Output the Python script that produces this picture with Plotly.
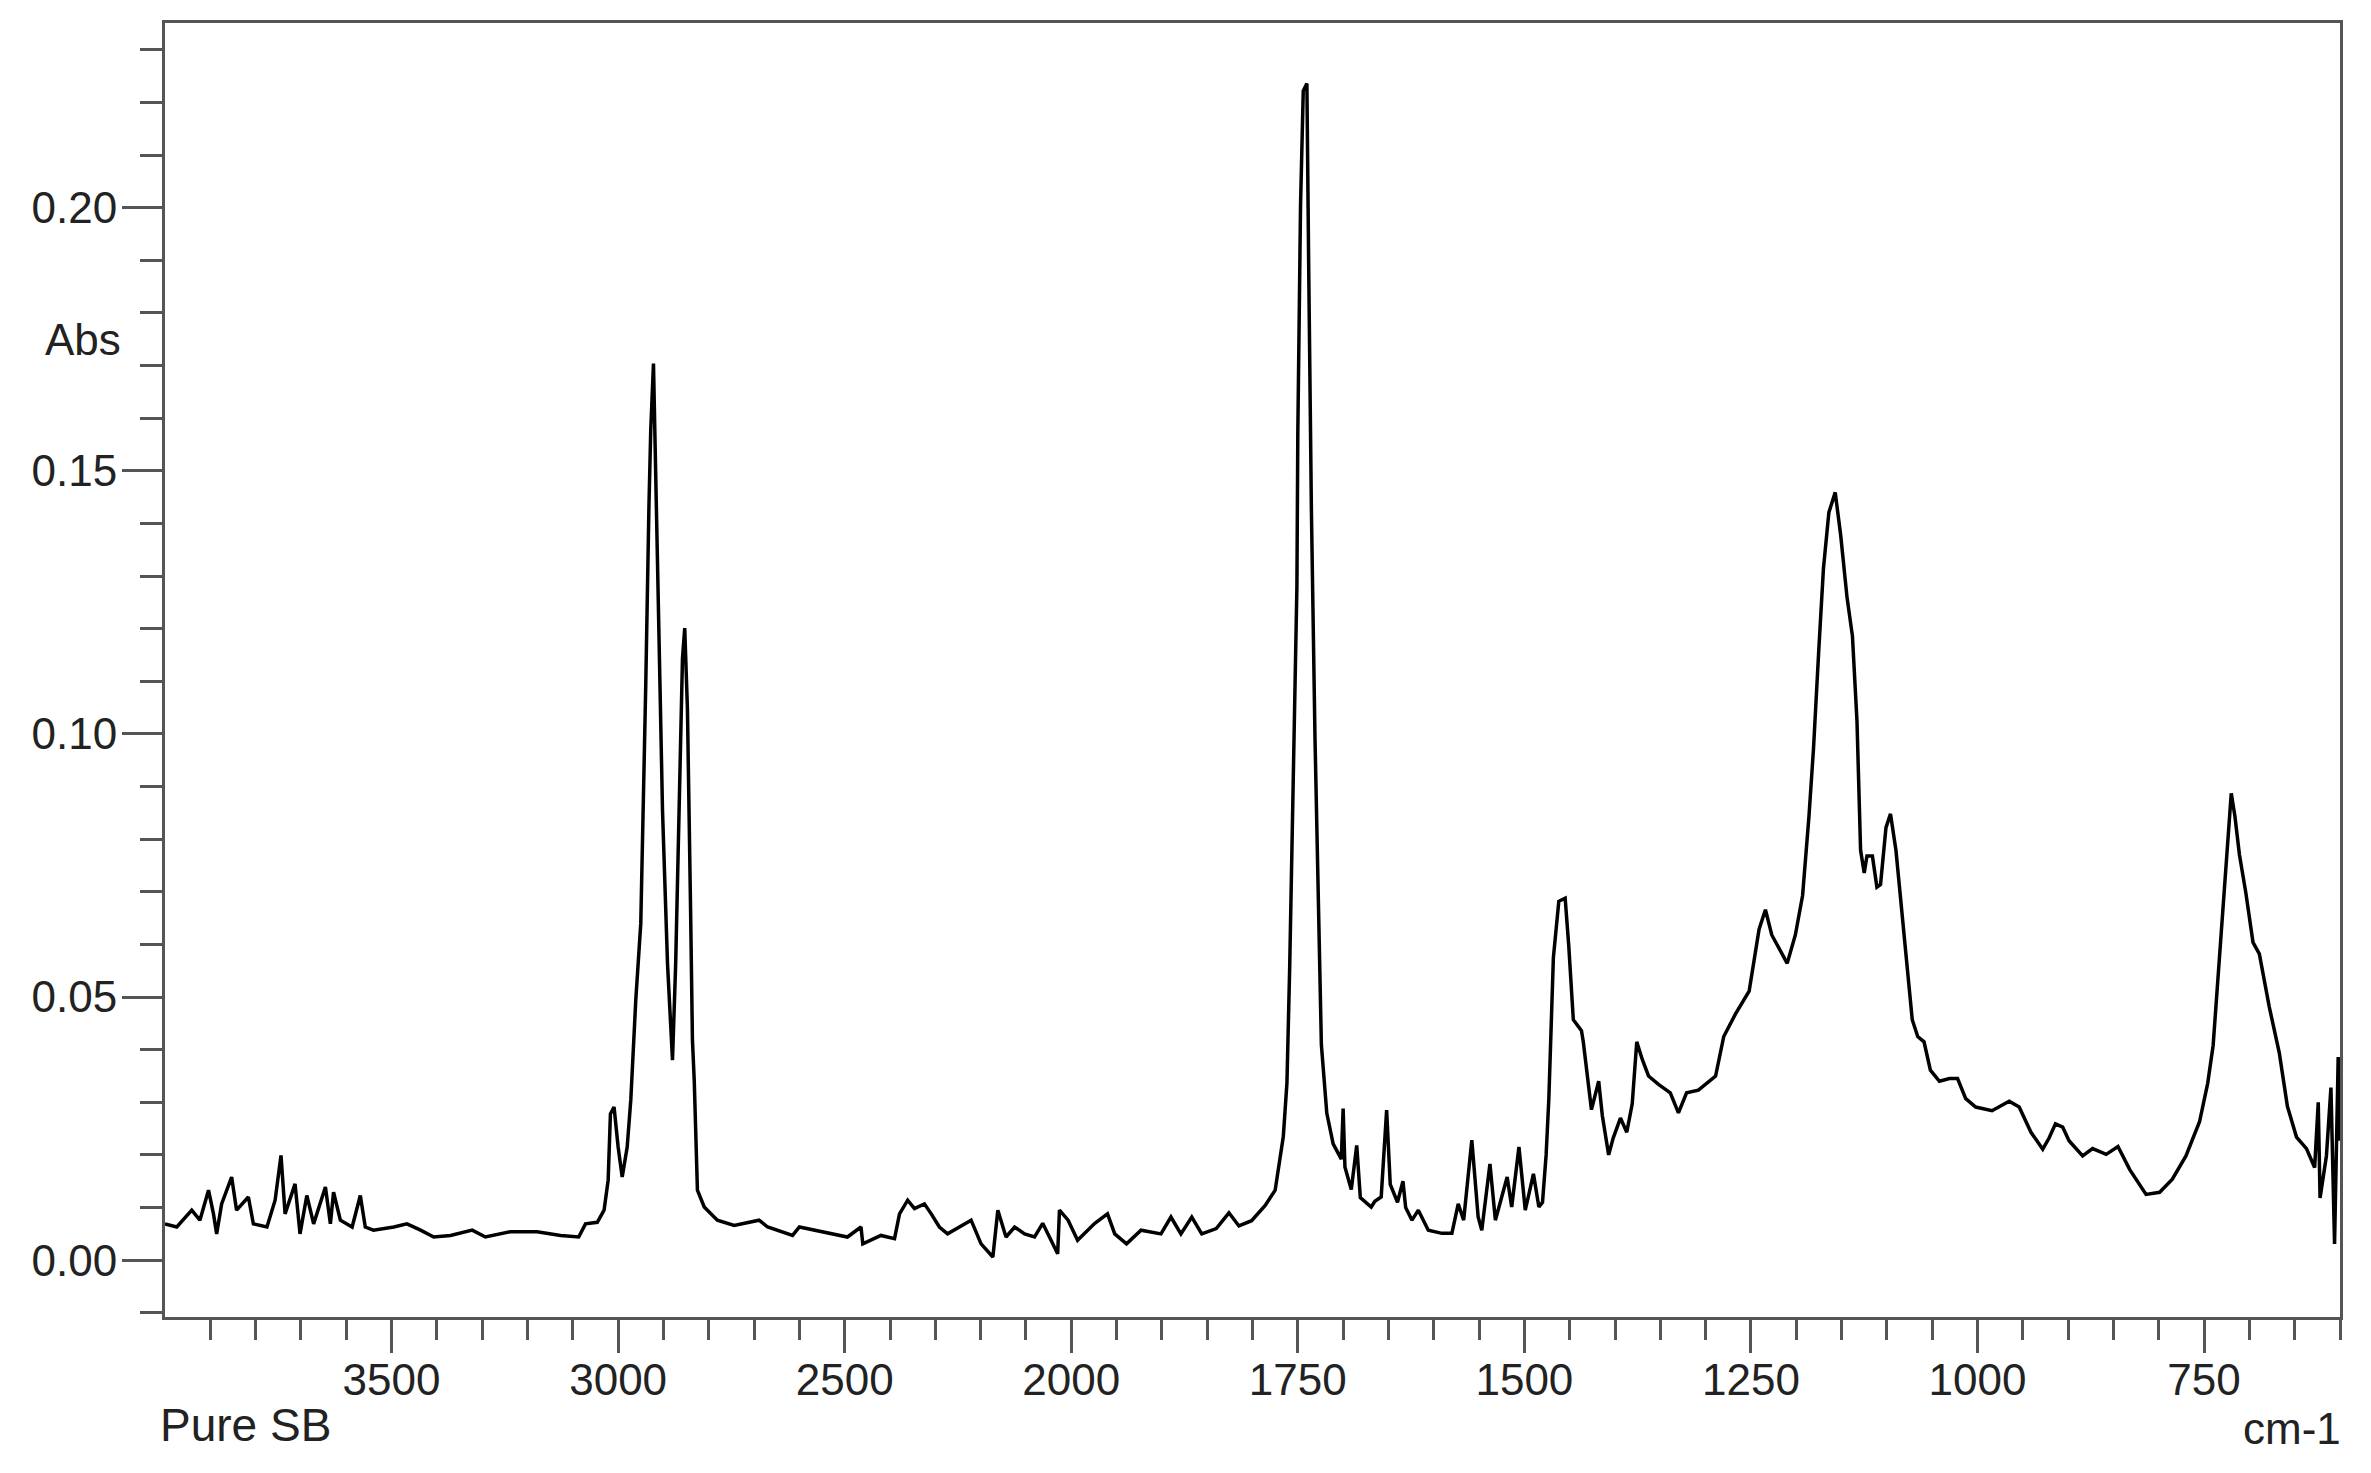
import plotly.graph_objects as go

# ---- data ----
wavenumber = [
    4000, 3974, 3941, 3923, 3904, 3893, 3886, 3875, 3853, 3842, 3816, 3805, 3775, 3757, 3744, 3735,
    3713, 3702, 3687, 3672, 3646, 3635, 3628, 3613, 3587, 3569, 3558, 3540, 3495, 3466, 3436, 3407,
    3370, 3322, 3293, 3238, 3179, 3127, 3087, 3072, 3046, 3031, 3022, 3017, 3009, 3000, 2991, 2980,
    2972, 2961, 2950, 2943, 2939, 2932, 2928, 2922, 2915, 2910, 2902, 2891, 2880, 2873, 2866, 2858,
    2853, 2847, 2840, 2836, 2832, 2829, 2825, 2810, 2781, 2744, 2689, 2670, 2615, 2600, 2552, 2494,
    2464, 2460, 2420, 2390, 2379, 2361, 2346, 2324, 2309, 2291, 2273, 2221, 2199, 2173, 2162, 2144,
    2125, 2103, 2081, 2063, 2030, 2026, 2007, 1993, 1974, 1960, 1952, 1939, 1923, 1901, 1890, 1879,
    1867, 1856, 1840, 1826, 1815, 1801, 1786, 1775, 1766, 1762, 1759, 1755, 1751, 1750, 1747, 1744,
    1740, 1738, 1735, 1731, 1727, 1724, 1718, 1711, 1702, 1700, 1698, 1691, 1685, 1681, 1669, 1665,
    1658, 1652, 1648, 1640, 1634, 1631, 1624, 1617, 1606, 1591, 1580, 1573, 1567, 1558, 1551, 1547,
    1538, 1532, 1519, 1514, 1506, 1499, 1490, 1484, 1480, 1476, 1473, 1468, 1462, 1455, 1451, 1446,
    1437, 1435, 1426, 1418, 1414, 1407, 1402, 1394, 1387, 1381, 1376, 1370, 1363, 1352, 1339, 1330,
    1321, 1308, 1289, 1280, 1267, 1252, 1241, 1234, 1227, 1217, 1210, 1201, 1193, 1186, 1181, 1175,
    1170, 1164, 1157, 1151, 1144, 1138, 1133, 1129, 1125, 1122, 1116, 1111, 1107, 1101, 1096, 1090,
    1083, 1076, 1072, 1066, 1059, 1052, 1042, 1031, 1022, 1013, 1002, 984, 965, 954, 941, 928,
    921, 914, 906, 899, 884, 873, 858, 845, 832, 814, 799, 785, 770, 755, 746, 740,
    737, 733, 728, 723, 720, 716, 711, 704, 696, 689, 678, 667, 658, 648, 637, 628,
    624, 622, 615, 610, 606, 602, 600,
]
absorbance = [
    0.0069, 0.0063, 0.0095, 0.0076, 0.0133, 0.0088, 0.0050, 0.0107, 0.0158, 0.0095, 0.0120, 0.0069, 0.0063, 0.0114, 0.0199, 0.0088,
    0.0145, 0.0050, 0.0123, 0.0069, 0.0139, 0.0069, 0.0129, 0.0076, 0.0063, 0.0123, 0.0063, 0.0057, 0.0063, 0.0069, 0.0057, 0.0044,
    0.0047, 0.0057, 0.0044, 0.0054, 0.0054, 0.0047, 0.0044, 0.0069, 0.0072, 0.0095, 0.0152, 0.0278, 0.0291, 0.0215, 0.0158, 0.0215,
    0.0305, 0.0495, 0.0640, 0.0901, 0.1095, 0.1433, 0.1578, 0.1704, 0.1385, 0.1143, 0.0853, 0.0563, 0.0380, 0.0563, 0.0853, 0.1143,
    0.1201, 0.1046, 0.0660, 0.0418, 0.0341, 0.0246, 0.0133, 0.0101, 0.0076, 0.0066, 0.0076, 0.0063, 0.0047, 0.0063, 0.0054, 0.0044,
    0.0063, 0.0031, 0.0047, 0.0041, 0.0088, 0.0114, 0.0098, 0.0107, 0.0088, 0.0063, 0.0050, 0.0076, 0.0031, 0.0006, 0.0095, 0.0044,
    0.0063, 0.0050, 0.0044, 0.0070, 0.0012, 0.0095, 0.0076, 0.0038, 0.0070, 0.0088, 0.0050, 0.0031, 0.0057, 0.0050, 0.0082, 0.0050,
    0.0082, 0.0050, 0.0060, 0.0090, 0.0065, 0.0075, 0.0104, 0.0133, 0.0235, 0.0337, 0.0554, 0.0917, 0.1280, 0.1570, 0.2004, 0.2222,
    0.2236, 0.1888, 0.1424, 0.0989, 0.0627, 0.0409, 0.0279, 0.0221, 0.0192, 0.0288, 0.0177, 0.0134, 0.0218, 0.0119, 0.0101, 0.0112,
    0.0120, 0.0285, 0.0144, 0.0110, 0.0150, 0.0100, 0.0076, 0.0095, 0.0057, 0.0051, 0.0051, 0.0107, 0.0076, 0.0228, 0.0082, 0.0057,
    0.0183, 0.0076, 0.0158, 0.0101, 0.0215, 0.0095, 0.0164, 0.0101, 0.0110, 0.0200, 0.0307, 0.0575, 0.0682, 0.0688, 0.0597, 0.0457,
    0.0436, 0.0415, 0.0286, 0.0340, 0.0275, 0.0200, 0.0232, 0.0270, 0.0243, 0.0297, 0.0415, 0.0382, 0.0350, 0.0334, 0.0318, 0.0280,
    0.0318, 0.0323, 0.0350, 0.0425, 0.0468, 0.0511, 0.0629, 0.0666, 0.0618, 0.0586, 0.0564, 0.0618, 0.0693, 0.0843, 0.0971, 0.1164,
    0.1314, 0.1421, 0.1459, 0.1378, 0.1260, 0.1186, 0.1025, 0.0779, 0.0736, 0.0768, 0.0768, 0.0709, 0.0714, 0.0822, 0.0848, 0.0779,
    0.0650, 0.0522, 0.0457, 0.0425, 0.0415, 0.0361, 0.0340, 0.0345, 0.0345, 0.0307, 0.0291, 0.0284, 0.0302, 0.0291, 0.0243, 0.0211,
    0.0232, 0.0259, 0.0253, 0.0227, 0.0198, 0.0212, 0.0201, 0.0216, 0.0172, 0.0125, 0.0129, 0.0154, 0.0198, 0.0263, 0.0336, 0.0408,
    0.0481, 0.0590, 0.0699, 0.0815, 0.0887, 0.0844, 0.0771, 0.0699, 0.0604, 0.0582, 0.0481, 0.0394, 0.0292, 0.0234, 0.0212, 0.0176,
    0.0300, 0.0118, 0.0198, 0.0328, 0.0031, 0.0386, 0.0227,
]

x_major_ticks = [3500, 3000, 2500, 2000, 1750, 1500, 1250, 1000, 750]
x_minor_ticks = [3900, 3800, 3700, 3600, 3400, 3300, 3200, 3100, 2900, 2800, 2700, 2600,
                 2400, 2300, 2200, 2100, 1950, 1900, 1850, 1800, 1700, 1650, 1600, 1550,
                 1450, 1400, 1350, 1300, 1200, 1150, 1100, 1050, 950, 900, 850, 800,
                 700, 650, 600]
y_major_ticks = [0.00, 0.05, 0.10, 0.15, 0.20]
y_label = "Abs"
x_label = "cm-1"
sample_label = "Pure SB"


# FTIR instruments compress the region above 2000 cm-1 by a factor of 2
def axis_pos(w):
    return w if w <= 2000 else 2000 + (w - 2000) / 2.0


FONT = "Liberation Sans, Arial, Helvetica, sans-serif"
TXT = "#222222"
AX = "#555555"

fig = go.Figure()
fig.add_trace(go.Scatter(
    x=[axis_pos(w) for w in wavenumber],
    y=absorbance,
    mode="lines",
    line=dict(color="#000000", width=3.5),
    hoverinfo="skip",
    showlegend=False,
))

fig.update_layout(
    width=2371, height=1473,
    margin=dict(l=157, r=39, t=12, b=164),
    paper_bgcolor="white", plot_bgcolor="white",
    font=dict(family=FONT, size=44, color=TXT),
    xaxis=dict(
        range=[axis_pos(4000), axis_pos(600)],
        showgrid=False, zeroline=False,
        showline=True, mirror=True, linecolor=AX, linewidth=3,
        tickmode="array",
        tickvals=[axis_pos(w) for w in x_major_ticks],
        ticktext=[str(w) for w in x_major_ticks],
        ticks="outside", ticklen=33, tickwidth=3, tickcolor=AX,
        ticklabelstandoff=-11,
        tickfont=dict(family=FONT, size=44, color=TXT),
        minor=dict(tickmode="array", tickvals=[axis_pos(w) for w in x_minor_ticks],
                   ticks="outside", ticklen=20, tickwidth=3, tickcolor=AX, showgrid=False),
    ),
    yaxis=dict(
        range=[-0.0108, 0.2351],
        showgrid=False, zeroline=False,
        showline=True, mirror=True, linecolor=AX, linewidth=3,
        tickmode="array",
        tickvals=y_major_ticks,
        ticktext=[f"{v:.2f}" for v in y_major_ticks],
        ticks="outside", ticklen=40, tickwidth=3, tickcolor=AX,
        ticklabelstandoff=-4,
        tickfont=dict(family=FONT, size=44, color=TXT),
        minor=dict(dtick=0.01, tick0=0, ticks="outside", ticklen=22, tickwidth=3,
                   tickcolor=AX, showgrid=False),
    ),
    annotations=[
        dict(text=y_label, xref="paper", yref="y", x=-0.0195, y=0.175,
             xanchor="right", yanchor="middle", showarrow=False,
             font=dict(family=FONT, size=44, color=TXT)),
        dict(text=sample_label, xref="paper", yref="paper", x=-0.003, y=-0.0837,
             xanchor="left", yanchor="middle", showarrow=False,
             font=dict(family=FONT, size=46, color=TXT)),
        dict(text=x_label, xref="paper", yref="paper", x=1.0015, y=-0.0865,
             xanchor="right", yanchor="middle", showarrow=False,
             font=dict(family=FONT, size=44, color=TXT)),
    ],
)

fig.write_html("out.html")
